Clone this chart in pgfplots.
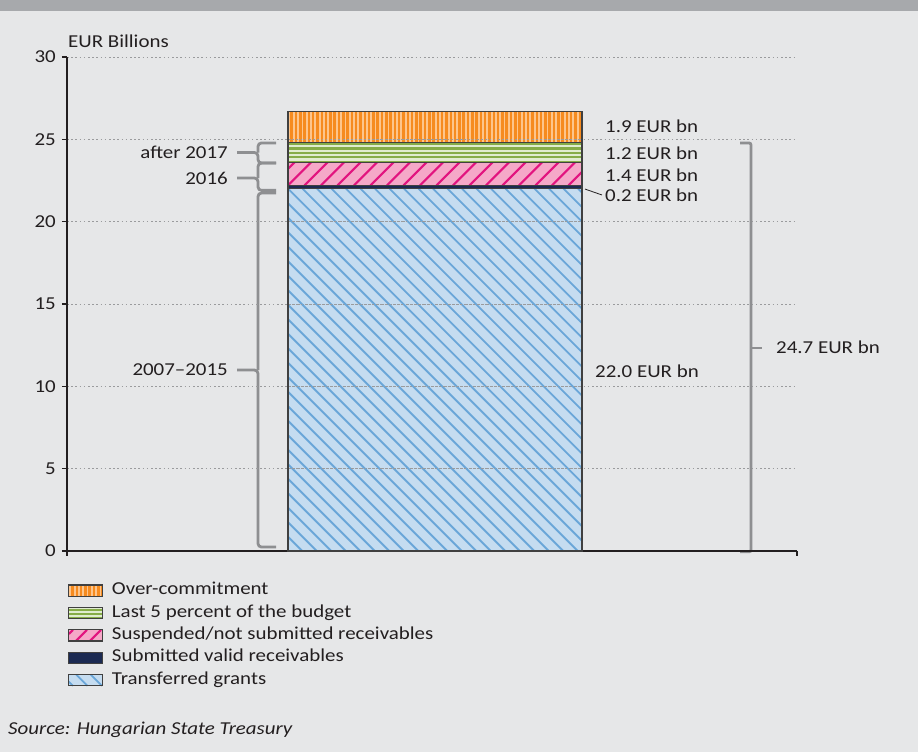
\documentclass[border=0pt]{standalone}
\usepackage{fontspec}
\setmainfont{Carlito}[FakeStretch=1.15]
\usepackage{pgfplots}
\pgfplotsset{compat=1.18}

\definecolor{bgCol}{HTML}{E6E7E8}
\definecolor{bandCol}{HTML}{A7A9AC}
\definecolor{textCol}{HTML}{231F20}
\definecolor{axisCol}{HTML}{231F20}
\definecolor{gridCol}{HTML}{9A9B9D}
\definecolor{barEdge}{HTML}{404040}
\definecolor{braceCol}{HTML}{8E8F91}
\definecolor{blueFill}{HTML}{C5DCF0}
\definecolor{blueLine}{HTML}{6AA6D8}
\definecolor{navy}{HTML}{1B2A52}
\definecolor{pinkFill}{HTML}{F5A8C8}
\definecolor{pinkLine}{HTML}{E2147F}
\definecolor{greenFill}{HTML}{E0ECD0}
\definecolor{greenLine}{HTML}{86AC48}
\definecolor{orangeFill}{HTML}{F68B1F}
\definecolor{orangeLine}{HTML}{FDC58C}

\pgfplotsset{
  legblue/.style={legend image code/.code={%
    \fill[blueFill] (0bp,-5.6bp) rectangle (34bp,5.6bp);
    \draw[blueLine, line width=1.8bp, fill=none] (0bp,-1.4bp) -- (4.2bp,-5.6bp);
    \draw[blueLine, line width=1.8bp, fill=none] (7.5bp,5.6bp) -- (18.7bp,-5.6bp);
    \draw[blueLine, line width=1.8bp, fill=none] (22bp,5.6bp) -- (33.2bp,-5.6bp);
    \draw[barEdge, line width=1.1bp, fill=none] (0bp,-5.6bp) rectangle (34bp,5.6bp);}},
  legnavy/.style={legend image code/.code={%
    \fill[navy] (0bp,-5.6bp) rectangle (34bp,5.6bp);
    \draw[barEdge, line width=1.1bp, fill=none] (0bp,-5.6bp) rectangle (34bp,5.6bp);}},
  legpink/.style={legend image code/.code={%
    \fill[pinkFill] (0bp,-5.6bp) rectangle (34bp,5.6bp);
    \draw[pinkLine, line width=2bp, fill=none] (0bp,1.4bp) -- (4.2bp,5.6bp);
    \draw[pinkLine, line width=2bp, fill=none] (7bp,-5.6bp) -- (18.2bp,5.6bp);
    \draw[pinkLine, line width=2bp, fill=none] (21bp,-5.6bp) -- (32.2bp,5.6bp);
    \draw[barEdge, line width=1.1bp, fill=none] (0bp,-5.6bp) rectangle (34bp,5.6bp);}},
  leggreen/.style={legend image code/.code={%
    \fill[greenFill] (0bp,-5.6bp) rectangle (34bp,5.6bp);
    \draw[greenLine, line width=2.2bp, fill=none] (0bp,3.4bp) -- (34bp,3.4bp);
    \draw[greenLine, line width=2.2bp, fill=none] (0bp,-1bp) -- (34bp,-1bp);
    \draw[greenLine, line width=2.2bp, fill=none] (0bp,-4.6bp) -- (34bp,-4.6bp);
    \draw[barEdge, line width=1.1bp, fill=none] (0bp,-5.6bp) rectangle (34bp,5.6bp);}},
  legorange/.style={legend image code/.code={%
    \fill[orangeFill] (0bp,-5.6bp) rectangle (34bp,5.6bp);
    \draw[orangeLine, line width=1.8bp, fill=none] (1.5bp,-5.6bp) -- (1.5bp,5.6bp);
    \draw[orangeLine, line width=1.8bp, fill=none] (5.8bp,-5.6bp) -- (5.8bp,5.6bp);
    \draw[orangeLine, line width=1.8bp, fill=none] (10.1bp,-5.6bp) -- (10.1bp,5.6bp);
    \draw[orangeLine, line width=1.8bp, fill=none] (14.4bp,-5.6bp) -- (14.4bp,5.6bp);
    \draw[orangeLine, line width=1.8bp, fill=none] (18.7bp,-5.6bp) -- (18.7bp,5.6bp);
    \draw[orangeLine, line width=1.8bp, fill=none] (23.0bp,-5.6bp) -- (23.0bp,5.6bp);
    \draw[orangeLine, line width=1.8bp, fill=none] (27.3bp,-5.6bp) -- (27.3bp,5.6bp);
    \draw[orangeLine, line width=1.8bp, fill=none] (31.6bp,-5.6bp) -- (31.6bp,5.6bp);
    \draw[barEdge, line width=1.1bp, fill=none] (0bp,-5.6bp) rectangle (34bp,5.6bp);}},
}

\newcommand{\leftbrace}[4]{% bottom, top, mid, label
  \draw[braceCol, line width=2.8bp, rounded corners=3.5bp] (276,#1) -- (258,#1) -- (258,#3) -- (237,#3);
  \draw[braceCol, line width=2.8bp, rounded corners=3.5bp] (276,#2) -- (258,#2) -- (258,#3);
  \node[anchor=east, inner sep=0pt, text=textCol] at (228,#3) {#4};
}

\begin{document}
\begin{tikzpicture}[font=\fontsize{18.2bp}{21bp}\selectfont]
\fill[bgCol] (0,0) rectangle (918bp,752bp);
\fill[bandCol] (0,741bp) rectangle (918bp,752bp);
\begin{axis}[
  at={(67bp,201bp)}, anchor=south west,
  scale only axis, width=730bp, height=494bp,
  xmin=67, xmax=797, ymin=0, ymax=30,
  ybar stacked, bar width=294bp,
  axis on top, clip=false,
  axis x line*=bottom, axis y line*=left,
  axis line style={-, draw=axisCol, line width=1.6bp},
  xtick={67,797}, xticklabels={},
  ytick={0,5,10,15,20,25,30},
  tick align=outside, major tick length=5bp,
  tick style={draw=axisCol, line width=1.6bp},
  ymajorgrids,
  major grid style={draw=gridCol, line width=0.9bp, dash pattern=on 1.6bp off 2.6bp},
  yticklabel style={text=textCol, inner sep=0pt, xshift=-6bp},
  /pgf/number format/assume math mode=true,
  reverse legend,
  legend cell align=left,
  legend style={draw=none, fill=none, inner sep=0pt, outer sep=0pt,
    at={(0.001,-0.062)}, anchor=north west, row sep=4.4bp, column sep=8bp,
    text=textCol,
    nodes={inner xsep=0pt, inner ysep=0pt, text height=13bp, text depth=5bp}},
]
% stacked segments: 22.0 | 0.2 | 1.4 | 1.2 | 1.9  (tops 22.0, 22.2, 23.6, 24.8, 26.7)
\addplot[fill=blueFill, draw=barEdge, line width=1.2bp, legblue] coordinates {(435,22.0)};
\addlegendentry{Transferred grants}
\addplot[fill=navy, draw=barEdge, line width=1.2bp, legnavy] coordinates {(435,0.2)};
\addlegendentry{Submitted valid receivables}
\addplot[fill=pinkFill, draw=barEdge, line width=1.2bp, legpink] coordinates {(435,1.4)};
\addlegendentry{Suspended/not submitted receivables}
\addplot[fill=greenFill, draw=barEdge, line width=1.2bp, leggreen] coordinates {(435,1.2)};
\addlegendentry{Last 5 percent of the budget}
\addplot[fill=orangeFill, draw=barEdge, line width=1.2bp, legorange] coordinates {(435,1.9)};
\addlegendentry{Over-commitment}

% corners of the bar segments (bar spans x = 435 +- 147), for the hatching drawn below
\coordinate (bA) at (288,0);    \coordinate (bB) at (582,22.0); \coordinate (bTL) at (288,22.0);
\coordinate (pA) at (288,22.2); \coordinate (pB) at (582,23.6);
\coordinate (gA) at (288,23.6); \coordinate (gB) at (582,24.8); \coordinate (gTL) at (288,24.8);
\coordinate (oA) at (288,24.8); \coordinate (oB) at (582,26.7); \coordinate (oTL) at (288,26.7);
\coordinate (L5) at (288,5);   \coordinate (R5) at (582,5);
\coordinate (L10) at (288,10); \coordinate (R10) at (582,10);
\coordinate (L15) at (288,15); \coordinate (R15) at (582,15);
\coordinate (L20) at (288,20); \coordinate (R20) at (582,20);
\coordinate (L25) at (288,25); \coordinate (R25) at (582,25);

% axis unit label
\node[anchor=west, inner sep=0pt, text=textCol] at (68,30.97) {EUR Billions};

% right-hand value labels
\node[anchor=west, inner sep=0pt, text=textCol] at (605,25.78) {1.9 EUR bn};
\node[anchor=west, inner sep=0pt, text=textCol] at (605,24.14) {1.2 EUR bn};
\node[anchor=west, inner sep=0pt, text=textCol] at (605,22.83) {1.4 EUR bn};
\node[anchor=west, inner sep=0pt, text=textCol] at (605,21.62) {0.2 EUR bn};
\draw[textCol, line width=0.8bp] (585,21.98) -- (602,21.62);
\node[anchor=west, inner sep=0pt, text=textCol] at (595,10.93) {22.0 EUR bn};

% left braces
\leftbrace{23.56}{24.78}{24.20}{after 2017}
\leftbrace{21.90}{23.56}{22.65}{2016}
\leftbrace{0.24}{21.74}{10.99}{2007–2015}

% right bracket
\draw[braceCol, line width=2.8bp, rounded corners=2bp] (740,24.78) -- (751,24.78) -- (751,-0.05) -- (740,-0.05);
\draw[braceCol, line width=2.8bp] (751,12.33) -- (762,12.33);
\node[anchor=west, inner sep=0pt, text=textCol] at (776,12.39) {24.7 EUR bn};
\end{axis}

% hatching of the bar segments
\begin{scope}
\clip (bA) rectangle (bB);
\foreach \k in {-26,...,21} {\draw[blueLine, line width=1.8bp] ([xshift=\k*14.5bp]bTL) -- ++(420bp,-420bp);}
\end{scope}
\begin{scope}
\clip (pA) rectangle (pB);
\foreach \k in {-2,...,18} {\draw[pinkLine, line width=2.2bp] ([xshift=\k*16.5bp]pA) -- ++(30bp,30bp);}
\end{scope}
\begin{scope}
\clip (gA) rectangle (gB);
\foreach \k in {0,...,4} {\draw[greenLine, line width=2.2bp] ([yshift=-\k*4.4bp-1.4bp]gTL) -- ++(294bp,0bp);}
\end{scope}
\begin{scope}
\clip (oA) rectangle (oB);
\foreach \k in {0,...,68} {\draw[orangeLine, line width=1.8bp] ([xshift=\k*4.3bp+1.5bp]oTL) -- ++(0bp,-40bp);}
\end{scope}
% gridlines run over the bar, then the segment outlines
\foreach \v in {5,10,15,20,25} {\draw[gridCol, line width=0.9bp, dash pattern=on 1.6bp off 2.6bp] (L\v) -- (R\v);}
\draw[barEdge, line width=1.2bp] (bA) rectangle (bB);
\draw[barEdge, line width=1.2bp] (pA) rectangle (pB);
\draw[barEdge, line width=1.2bp] (gA) rectangle (gB);
\draw[barEdge, line width=1.2bp] (oA) rectangle (oB);

\node[anchor=west, inner sep=0pt, text=textCol, font=\fontsize{18.2bp}{21bp}\selectfont\itshape] at (8bp,22bp) {Source: Hungarian State Treasury};
\pgfresetboundingbox
\path[use as bounding box] (0,0) rectangle (918bp,752bp);
\end{tikzpicture}
\end{document}
